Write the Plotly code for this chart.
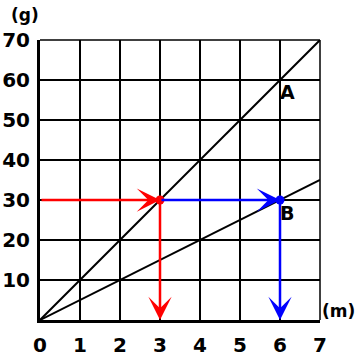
import plotly.graph_objects as go

x_ticks = [0, 1, 2, 3, 4, 5, 6, 7]
y_ticks = [10, 20, 30, 40, 50, 60, 70]
line_x = [0, 7]
line_A = [0, 70]
line_B = [0, 35]
label_A = ("A", 6.18, 57)
label_B = ("B", 6.18, 26.8)
read_x1, read_x2, read_y = 3, 6, 30

FONT = "DejaVu Sans"
fig = go.Figure()
fig.add_trace(go.Scatter(x=line_x, y=line_A, mode="lines", line=dict(color="black", width=2), hoverinfo="skip"))
fig.add_trace(go.Scatter(x=line_x, y=line_B, mode="lines", line=dict(color="black", width=2), hoverinfo="skip"))

def arrow(x0, y0, x1, y1, color):
    fig.add_annotation(x=x1, y=y1, ax=x0, ay=y0, xref="x", yref="y", axref="x", ayref="y",
                       showarrow=True, arrowhead=3, arrowsize=1.55, arrowwidth=2.5,
                       arrowcolor=color, text="")

arrow(0, read_y, read_x1, read_y, "#ff0000")
arrow(read_x1, read_y, read_x2, read_y, "#0000ff")
arrow(read_x1, read_y, read_x1, 0, "#ff0000")
arrow(read_x2, read_y, read_x2, 0, "#0000ff")

fig.add_trace(go.Scatter(x=[read_x1], y=[read_y], mode="markers", marker=dict(color="#ff0000", size=9), hoverinfo="skip"))
fig.add_trace(go.Scatter(x=[read_x2], y=[read_y], mode="markers", marker=dict(color="#0000ff", size=9), hoverinfo="skip"))

for t, lx, ly in [label_A, label_B]:
    fig.add_annotation(x=lx, y=ly, text="<b>%s</b>" % t, showarrow=False,
                       font=dict(family=FONT, size=19, color="black"))

fig.add_annotation(x=-0.054, y=1.089, xref="paper", yref="paper", text="<b>(g)</b>", showarrow=False,
                   xanchor="center", yanchor="middle", font=dict(family=FONT, size=17, color="black"))
fig.add_annotation(x=1.066, y=0.032, xref="paper", yref="paper", text="<b>(m)</b>", showarrow=False,
                   xanchor="center", yanchor="middle", font=dict(family=FONT, size=17, color="black"))

# top and right border grid lines
fig.add_shape(type="line", xref="paper", yref="paper", x0=0, x1=1, y0=1, y1=1, line=dict(color="black", width=1.5))
fig.add_shape(type="line", xref="paper", yref="paper", x0=1, x1=1, y0=0, y1=1, line=dict(color="black", width=1.5))

fig.update_layout(
    width=360, height=360, margin=dict(l=40, r=40, t=40, b=40, autoexpand=False),
    paper_bgcolor="white", plot_bgcolor="white", showlegend=False,
    xaxis=dict(range=[0, 7], tickvals=x_ticks, ticktext=[str(v) for v in x_ticks], automargin=False,
               showgrid=True, gridcolor="black", gridwidth=1.5, zeroline=False,
               showline=True, linecolor="black", linewidth=3, ticks="", ticklabelstandoff=5,
               tickfont=dict(family=FONT, size=20, color="black", weight="bold"), fixedrange=True),
    yaxis=dict(range=[0, 70], tickvals=y_ticks, ticktext=[str(v) for v in y_ticks], automargin=False,
               showgrid=True, gridcolor="black", gridwidth=1.5, zeroline=False,
               showline=True, linecolor="black", linewidth=3, ticks="", ticklabelstandoff=3,
               tickfont=dict(family=FONT, size=20, color="black", weight="bold"), fixedrange=True),
)
fig.write_html("out.html")
